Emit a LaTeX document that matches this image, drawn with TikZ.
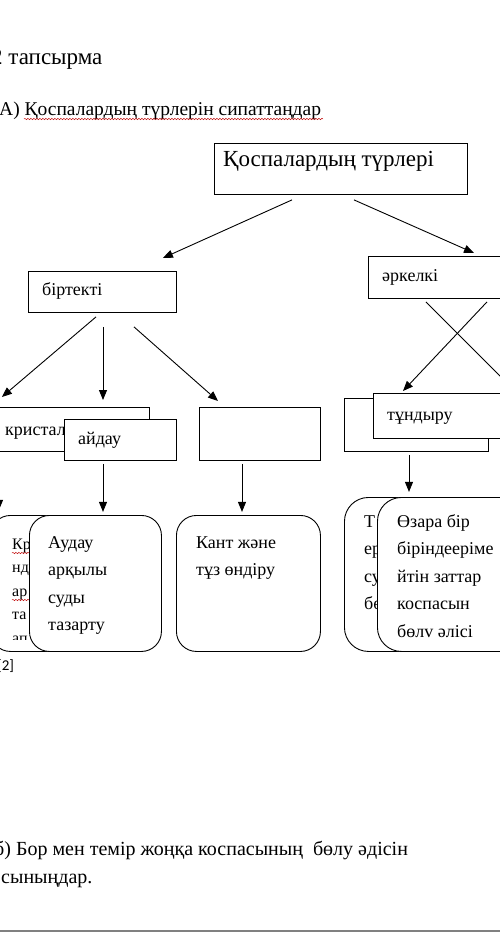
\documentclass[tikz,border=0pt]{standalone}
\usepackage{fontspec}
\setmainfont{Liberation Serif}
\newfontfamily\calib{Carlito}
\usetikzlibrary{arrows.meta,decorations.pathmorphing,calc}
\begin{document}
\begin{tikzpicture}[x=1pt,y=-1pt,
  box/.style={draw=black,line width=0.9pt,fill=white,rectangle,inner sep=0pt,anchor=north west},
  rbox/.style={box,rounded corners=20pt},
  txt/.style={anchor=base west,inner sep=0pt,font=\fontsize{18}{22}\selectfont},
  arr/.style={line width=0.9pt,-{Triangle[length=10pt,width=8pt]}},
  ln/.style={line width=0.9pt},
  squig/.style={draw=red!75!black,line width=0.45pt,decorate,decoration={snake,amplitude=0.7pt,segment length=3pt}}
]
\useasboundingbox (0,0) rectangle (500,942);
\clip (0,0) rectangle (500,942);
\fill[white] (0,0) rectangle (500,942);

% headings
\node[txt,font=\fontsize{23}{27}\selectfont] (h1) at (-9,65) {2 тапсырма};
\node[txt,font=\fontsize{19.5}{24}\selectfont] (h2) at (-1,115) {А) Қоспалардың түрлерін сипаттаңдар};
\draw[squig] (24,119) -- (323,119);

% top level
\node[box,minimum width=253pt,minimum height=51pt] (top) at (214,143) {};
\node[txt,font=\fontsize{23}{27}\selectfont] (topt) at (223,166) {Қоспалардың түрлері};

\node[box,minimum width=148pt,minimum height=41pt] (bir) at (28,271) {};
\node[txt] (birt) at (42,295) {біртекті};
\node[box,minimum width=160pt,minimum height=42pt] (ark) at (368,256) {};
\node[txt] (arkt) at (382,281) {әркелкі};

\coordinate (t1) at ($(top.south west)+(78,5)$);
\coordinate (t2) at ($(top.south west)+(140,5)$);
\draw[arr] (t1) -- ($(bir.north east)+(-14,-13)$) coordinate (b0);
\draw[arr] (t2) -- ($(ark.north west)+(106,-3)$) coordinate (a0);

% second level
\node[box,minimum width=180pt,minimum height=44pt] (kri) at (-31,407) {};
\node[txt] (krit) at (5,435) {кристалд};
\node[box,minimum width=112pt,minimum height=41pt] (ayd) at (64,419) {};
\node[txt] (aydt) at (78,444) {айдау};
\node[box,minimum width=121pt,minimum height=53pt] (emp) at (199,407) {};

\node[box,minimum width=144pt,minimum height=53pt] (tunb) at (344,398) {};
\node[box,minimum width=150pt,minimum height=45pt] (tun) at (373,393) {};
\node[txt] (tunt) at (387,420) {тұндыру};

\draw[arr] ($(bir.south west)+(68,4)$) -- ($(kri.north east)+(-148,-10)$);
\draw[arr] ($(bir.south west)+(75,14)$) -- ($(ayd.north west)+(39,-19)$);
\draw[arr] ($(bir.south west)+(106,14)$) -- ($(emp.north west)+(19,-6)$);
\draw[ln] ($(ark.south west)+(58,3)$) -- ($(ark.south west)+(140,85)$) coordinate (xend);
\draw[arr] ($(ark.south west)+(119,3)$) -- ($(tun.north west)+(30,-2)$);

% down arrows
\draw[arr] ($(kri.south west)+(30,4)$) -- ($(kri.south west)+(30,58)$);
\draw[arr] ($(ayd.south west)+(39,3)$) -- ($(ayd.south west)+(39,51)$);
\draw[arr] ($(emp.south west)+(43,3)$) -- ($(emp.south west)+(43,51)$);
\draw[arr] ($(tunb.south west)+(65,3)$) -- ($(tunb.south west)+(65,40)$);

% bottom boxes
\node[rbox,minimum width=165pt,minimum height=136pt] (krib) at (-10,515) {};
\begin{scope}
  \clip (-10,515) rectangle (200,639);
  \node[txt,font=\fontsize{16}{19}\selectfont] (k1) at (12,549) {Кр};
  \node[txt,font=\fontsize{16}{19}\selectfont] (k2) at (12,572) {нд};
  \node[txt,font=\fontsize{16}{19}\selectfont] (k3) at (12,596) {ар};
  \node[txt,font=\fontsize{16}{19}\selectfont] (k4) at (12,619) {та};
  \node[txt,font=\fontsize{16}{19}\selectfont] (k5) at (12,643) {ап};
\end{scope}
\draw[squig] (12,553) -- (29,553);
\draw[squig] (12,600) -- (29,600);
\node[rbox,minimum width=132pt,minimum height=136pt] (aud) at (29,515) {};
\node[txt] (a1) at (48,548) {Аудау};
\node[txt] (a2) at (48,575) {арқылы};
\node[txt] (a3) at (48,603) {суды};
\node[txt] (a4) at (48,630) {тазарту};

\node[rbox,minimum width=144pt,minimum height=136pt] (kant) at (176,515) {};
\node[txt] (c1) at (196,548) {Кант және};
\node[txt] (c2) at (196,575) {тұз өндіру};

\node[rbox,rounded corners=24pt,minimum width=140pt,minimum height=154pt] (tb) at (344,497) {};
\node[txt] (r1) at (364,527) {Т};
\node[txt] (r2) at (364,554) {ер};
\node[txt] (r3) at (364,582) {су};
\node[txt] (r4) at (364,609) {бө};
\node[rbox,rounded corners=24pt,minimum width=160pt,minimum height=154pt] (tf) at (377,497) {};
\node[txt] (f1) at (397,527) {Өзара бір};
\node[txt] (f2) at (397,554) {біріндееріме};
\node[txt] (f3) at (397,582) {йтін заттар};
\node[txt] (f4) at (397,609) {коспасын};
\node[txt] (f5) at (397,637) {бөлv әлісі};

\node[txt,font=\calib\fontsize{15}{18}\selectfont] (mark) at (-3,670) {[2]};

% part b
\node[txt,font=\fontsize{20}{24}\selectfont] (b1) at (-6,855) {б) Бор мен темір жоңқа коспасының\ \ бөлу әдісін};
\node[txt,font=\fontsize{20}{24}\selectfont] (b2) at (1,883) {сыныңдар.};
\draw[gray,line width=1.2pt] (0,931) -- (500,931) coordinate (rule);
\end{tikzpicture}
\end{document}
